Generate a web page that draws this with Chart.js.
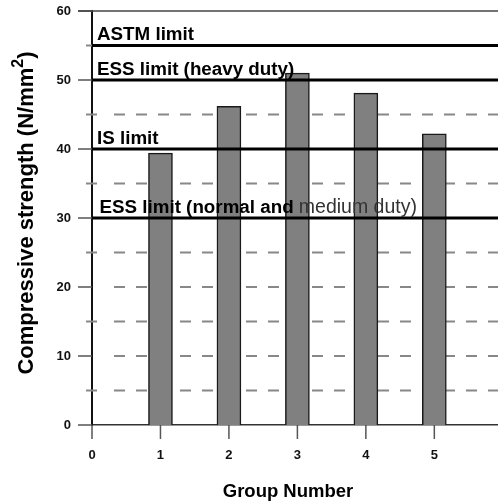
<!DOCTYPE html>
<html>
<head>
<meta charset="utf-8">
<script src="https://cdn.jsdelivr.net/npm/chart.js@4/dist/chart.umd.min.js"></script>
<style>
  body { margin: 0; background: #fff; }
  #chart { display: block; }
</style>
</head>
<body>
<canvas id="chart" width="498" height="503"></canvas>
<script>
// Données
const groups = [1, 2, 3, 4, 5];
const strength = [39.4, 46.2, 51.0, 48.1, 42.2];
const limitNames = ['ASTM limit', 'ESS limit (heavy duty)', 'IS limit', 'ESS limit (normal and medium duty)'];
const limitValues = [55, 50, 40, 30];
const dashedLevels = [5, 10, 15, 20, 25, 35, 45];
const minorTicks = [5, 15, 25, 35, 45, 55];
const majorTicks = [0, 10, 20, 30, 40, 50, 60];
const xTicks = [0, 1, 2, 3, 4, 5];
const xMax = 5.93;
const yMax = 60;

const FONT = '"Liberation Sans", Arial, sans-serif';

// Grille pointillée, graduations et ligne du haut
const gridPlugin = {
  id: 'gridPlugin',
  beforeDatasetsDraw(chart) {
    const { ctx, scales: { x, y } } = chart;
    const x0 = x.getPixelForValue(0);
    ctx.save();
    // lignes pointillées
    ctx.strokeStyle = '#888';
    ctx.lineWidth = 2;
    ctx.setLineDash([11, 11]);
    dashedLevels.forEach(v => {
      const py = y.getPixelForValue(v);
      ctx.beginPath();
      ctx.moveTo(x0 + 22, py);
      ctx.lineTo(x.right, py);
      ctx.stroke();
    });
    ctx.setLineDash([]);
    // petites graduations
    minorTicks.forEach(v => {
      const py = y.getPixelForValue(v);
      ctx.beginPath();
      ctx.moveTo(x0 - 6, py);
      ctx.lineTo(x0 + 5, py);
      ctx.stroke();
    });
    // graduations principales
    ctx.strokeStyle = '#555';
    ctx.lineWidth = 1.5;
    majorTicks.forEach(v => {
      const py = y.getPixelForValue(v);
      ctx.beginPath();
      ctx.moveTo(x0 - 14, py);
      ctx.lineTo(x0, py);
      ctx.stroke();
    });
    xTicks.forEach(v => {
      const px = x.getPixelForValue(v);
      ctx.beginPath();
      ctx.moveTo(px, y.bottom);
      ctx.lineTo(px, y.bottom + 14);
      ctx.stroke();
    });
    // ligne du haut (60)
    const pTop = y.getPixelForValue(yMax);
    ctx.strokeStyle = '#444';
    ctx.beginPath();
    ctx.moveTo(x0 - 14, pTop);
    ctx.lineTo(x.right, pTop);
    ctx.stroke();
    ctx.restore();
  },
  afterDatasetsDraw(chart) {
    const { ctx, scales: { x, y } } = chart;
    const x0 = x.getPixelForValue(0);
    ctx.save();
    ctx.fillStyle = '#000';
    ctx.textBaseline = 'alphabetic';
    ctx.textAlign = 'left';
    // étiquettes des limites
    limitNames.forEach((name, i) => {
      const py = y.getPixelForValue(limitValues[i]) - 5.5;
      if (name.indexOf('medium') > -1) {
        const first = 'ESS limit (normal and ';
        ctx.font = 'bold 18.8px ' + FONT;
        ctx.fillStyle = '#000';
        ctx.fillText(first, x0 + 7.5, py);
        const w = ctx.measureText(first).width;
        ctx.font = '19.5px ' + FONT;
        ctx.fillStyle = '#333';
        ctx.fillText('medium duty)', x0 + 7.5 + w, py);
      } else {
        ctx.font = 'bold 18.8px ' + FONT;
        ctx.fillStyle = '#000';
        ctx.fillText(name, x0 + 5, py);
      }
    });
    ctx.restore();
  },
  afterDraw(chart) {
    const { ctx, scales: { y } } = chart;
    ctx.save();
    ctx.fillStyle = '#000';
    // titre axe X
    ctx.font = 'bold 18.5px ' + FONT;
    ctx.textAlign = 'center';
    ctx.textBaseline = 'middle';
    ctx.fillText('Group Number', 288, 492);
    // titre axe Y avec exposant
    const main = 'Compressive strength (N/mm';
    const sup = '2';
    const end = ')';
    ctx.translate(27, (y.top + y.bottom) / 2 - 5);
    ctx.rotate(-Math.PI / 2);
    ctx.textAlign = 'left';
    ctx.textBaseline = 'middle';
    ctx.font = 'bold 22px ' + FONT;
    const w1 = ctx.measureText(main).width;
    const w3 = ctx.measureText(end).width;
    ctx.font = 'bold 16px ' + FONT;
    const w2 = ctx.measureText(sup).width;
    let cx = -(w1 + w2 + w3) / 2;
    ctx.font = 'bold 22px ' + FONT;
    ctx.fillText(main, cx, 0);
    cx += w1;
    ctx.font = 'bold 16px ' + FONT;
    ctx.fillText(sup, cx, -8);
    cx += w2;
    ctx.font = 'bold 22px ' + FONT;
    ctx.fillText(end, cx, 0);
    ctx.restore();
  }
};

const datasets = [{
  type: 'bar',
  data: groups.map((g, i) => ({ x: g, y: strength[i] })),
  backgroundColor: '#808080',
  borderColor: '#1a1a1a',
  borderWidth: 1.5,
  barThickness: 24,
  order: 2
}];

limitValues.forEach(v => {
  datasets.push({
    type: 'line',
    data: [{ x: 0, y: v }, { x: xMax, y: v }],
    borderColor: '#000',
    borderWidth: 3,
    pointRadius: 0,
    order: 1
  });
});

new Chart(document.getElementById('chart'), {
  type: 'bar',
  data: { datasets: datasets },
  options: {
    responsive: false,
    animation: false,
    layout: { padding: { top: 11, left: 0, right: 0, bottom: 0 } },
    plugins: {
      legend: { display: false },
      tooltip: { enabled: false }
    },
    scales: {
      x: {
        type: 'linear',
        offset: false,
        min: 0,
        max: xMax,
        grid: { display: false },
        border: { color: '#333', width: 1.5 },
        ticks: {
          stepSize: 1,
          padding: 15,
          color: '#111',
          font: { family: FONT, size: 13, weight: 'bold' },
          callback: v => (Number.isInteger(v) && v <= 5 ? v : '')
        },
        afterFit: scale => { scale.height = 78; scale.paddingLeft = 0; scale.paddingRight = 0; }
      },
      y: {
        min: 0,
        max: yMax,
        grid: { display: false },
        border: { color: '#111', width: 2 },
        ticks: {
          stepSize: 10,
          padding: 13,
          color: '#111',
          font: { family: FONT, size: 13, weight: 'bold' }
        },
        afterFit: scale => { scale.width = 92; scale.paddingTop = 0; scale.paddingBottom = 0; }
      }
    }
  },
  plugins: [gridPlugin]
});
</script>
</body>
</html>
